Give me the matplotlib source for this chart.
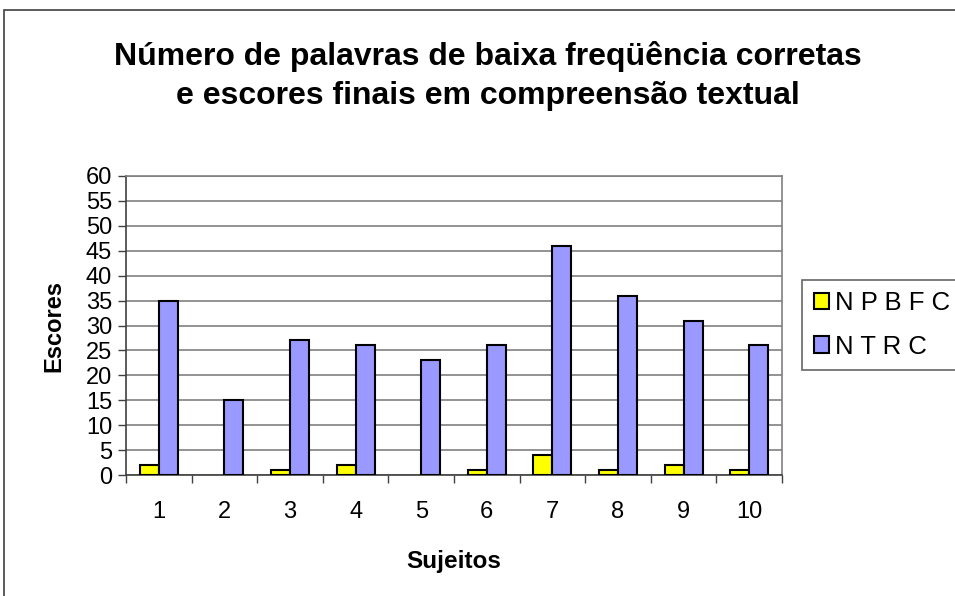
import numpy as np
import matplotlib.pyplot as plt
from matplotlib.patches import Rectangle

plt.rcParams['font.family'] = ['Liberation Sans', 'DejaVu Sans']

# data
sujeitos = ['1', '2', '3', '4', '5', '6', '7', '8', '9', '10']
npbfc = [2, 0, 1, 2, 0, 1, 4, 1, 2, 1]
ntrc = [35, 15, 27, 26, 23, 26, 46, 36, 31, 26]

W, H = 955, 596
fig = plt.figure(figsize=(W / 100, H / 100), dpi=100)
fig.patch.set_facecolor('white')

# outer chart frame (runs off the right and bottom edges)
fig.patches.append(Rectangle((4 / W, -0.05), 1.1, 1.05 - 10 / H,
                             transform=fig.transFigure, fill=False,
                             edgecolor='#404040', linewidth=1.2))

ax = fig.add_axes([126 / W, 1 - 475 / H, (782 - 126) / W, (475 - 176) / H])

x = np.arange(len(sujeitos))
bw = 0.29
ec1 = ['black' if v else 'none' for v in npbfc]
ec2 = ['black' if v else 'none' for v in ntrc]
ax.bar(x - bw / 2, npbfc, bw, color='#FFFF00', edgecolor=ec1, linewidth=1.5,
       label='N P B F C', zorder=3)
ax.bar(x + bw / 2, ntrc, bw, color='#9999FF', edgecolor=ec2, linewidth=1.5,
       label='N T R C', zorder=3)

ax.set_xlim(-0.5, len(sujeitos) - 0.5)
ax.set_ylim(0, 60)
ax.set_yticks(range(0, 61, 5))
ax.set_xticks(x)
ax.set_xticklabels(sujeitos, fontsize=17)
ax.tick_params(axis='y', labelsize=17, length=6, width=1, color='#404040', pad=4)
ax.tick_params(axis='x', length=0, pad=19)
ax.set_xticks(np.arange(-0.5, len(sujeitos), 1), minor=True)
ax.tick_params(axis='x', which='minor', length=6, width=1, color='#404040')

ax.yaxis.grid(True, color='#808080', linewidth=1.2, zorder=0)
ax.set_axisbelow(True)
for s in ['top', 'right']:
    ax.spines[s].set_color('#808080')
    ax.spines[s].set_linewidth(1.2)
for s in ['left', 'bottom']:
    ax.spines[s].set_color('#404040')
    ax.spines[s].set_linewidth(1.2)

ax.set_ylabel('Escores', fontsize=17, fontweight='bold', labelpad=15)
ax.set_xlabel('Sujeitos', fontsize=17.5, fontweight='bold', labelpad=19)

fig.text(488 / W, 1 - 76 / H,
         'Número de palavras de baixa freqüência corretas\n'
         'e escores finais em compreensão textual',
         ha='center', va='center', fontsize=23, fontweight='bold',
         linespacing=1.35)

leg = ax.legend(loc='center left', bbox_to_anchor=(802 / W, 1 - 325 / H),
                bbox_transform=fig.transFigure, frameon=True, fancybox=False,
                fontsize=18.5, handlelength=0.6, handleheight=0.6,
                handletextpad=0.25, labelspacing=0.75, borderpad=0.45,
                borderaxespad=0)
leg.get_frame().set_edgecolor('#404040')
leg.get_frame().set_linewidth(1.2)

fig.savefig('out.png', dpi=100)
